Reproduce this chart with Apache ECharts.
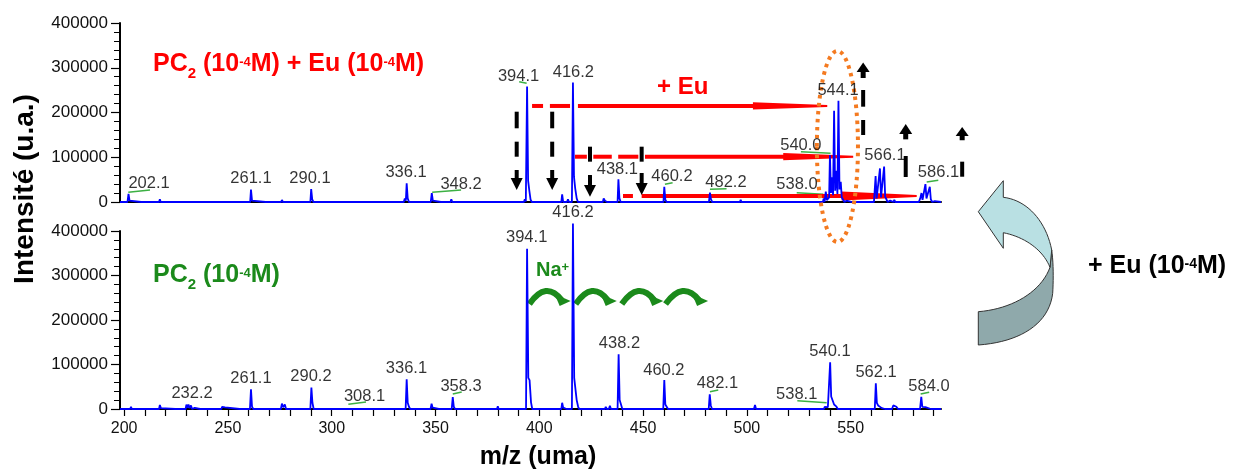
<!DOCTYPE html>
<html><head><meta charset="utf-8">
<script src="https://cdn.jsdelivr.net/npm/echarts@6/dist/echarts.min.js"></script>
<style>html,body{margin:0;padding:0;background:#fff}#c{width:1234px;height:469px}</style>
</head><body><div id="c"></div>
<script>
// ---------- DATA ----------
// Spectrum PC2 + Eu (top panel): [m/z, intensity]
const euSpectrum = [
[198,0],[201.6,0],[202.1,18000],[202.6,3000],[203.1,0],
[208.2,0],[208.6,2000],[209,0],[216.8,0],[217.2,6000],[217.6,0],
[227.1,0],[227.5,1500],[227.9,0],[229.6,0],[230,4000],[230.5,0],[231.3,0],[231.7,3500],[232.1,0],
[237,0],[237.4,2000],[237.8,0],[252.1,0],[252.5,2000],[252.9,0],[255.1,0],[255.5,2500],[255.9,0],
[260.7,0],[261.1,28000],[261.6,3000],[262.1,0],[268.1,0],[268.5,2000],[268.9,0],
[274.1,0],[274.5,3500],[275,0],[275.6,0],[276,4500],[276.5,0],[279.1,0],[279.5,2000],[279.9,0],
[289.7,0],[290.1,29000],[290.6,6000],[291.2,0],[296.6,0],[297,2500],[297.4,0],
[301.6,0],[302,2000],[302.4,0],[305.6,0],[306,2500],[306.4,0],[309.6,0],[310,1500],[310.4,0],
[313.6,0],[314,2000],[314.4,0],[317.6,0],[318,3000],[318.4,0],[324.6,0],[325,2000],[325.4,0],
[329.6,0],[330,2500],[330.4,0],[334.7,0],[335.2,8000],[335.7,3000],[336.1,42000],[336.6,8000],[337.2,0],
[342.6,0],[343,2000],[343.4,0],[347.7,0],[348.2,20000],[348.7,3000],[349.3,0],
[352.6,0],[353,2500],[353.4,0],[357.2,0],[357.6,6000],[358.1,0],[363.6,0],[364,2000],[364.4,0],
[370.6,0],[371,2500],[371.4,0],[373.6,0],[374,2000],[374.4,0],[379.6,0],[380,2000],[380.4,0],
[385.6,0],[386,2500],[386.4,0],
[392.6,0],[393,6000],[393.5,1000],[394.1,258000],[394.6,48000],[395.2,25000],[395.8,5000],[396.4,0],
[400.6,0],[401,3000],[401.4,0],[404.6,0],[405,2000],[405.4,0],[410.6,0],[411,17000],[411.5,0],
[413.3,0],[413.8,6000],[414.3,0],
[415.7,0],[416.2,267000],[416.7,56000],[417.3,30000],[418,8000],[418.6,0],
[419.6,0],[420,2000],[420.4,0],[425.6,0],[426,2500],[426.4,0],
[429.1,0],[429.5,4000],[430,0],[430.6,0],[431,8000],[431.6,3000],[432,5000],[432.6,0],
[437.7,0],[438.1,51000],[438.6,8000],[439.2,0],[441.6,0],[442,2000],[442.4,0],
[445.6,0],[446,2000],[446.4,0],[450.6,0],[451,3000],[451.4,0],[454.6,0],[455,2000],[455.4,0],
[459.8,0],[460.2,34000],[460.7,5000],[461.3,0],[462.6,0],[463,4000],[463.4,0],
[467.6,0],[468,2000],[468.4,0],[473.6,0],[474,2500],[474.4,0],[478.6,0],[479,2000],[479.4,0],
[481.7,0],[482.2,21000],[482.7,6000],[483.3,0],[484.6,0],[485,3000],[485.4,0],
[489.6,0],[490,2000],[490.4,0],[496.6,0],[497,5000],[497.4,0],[501.6,0],[502,2000],[502.4,0],
[508.6,0],[509,2500],[509.4,0],[513.6,0],[514,2000],[514.4,0],[518.6,0],[519,2500],[519.4,0],
[525.6,0],[526,2000],[526.4,0],[530.6,0],[531,2500],[531.4,0],[533.6,0],[534,2000],[534.4,0],
[536.6,0],[537,8000],[537.4,0],[537.6,0],[538,23000],[538.5,4000],[539.2,5000],
[539.6,10000],[540,105000],[540.5,20000],[541.1,55000],[541.5,15000],[542,204000],[542.5,25000],
[543.1,70000],[543.6,18000],[544.1,226000],[544.6,28000],[545.2,45000],[545.7,10000],[546.3,6000],[547,0],
[547.6,0],[548,3000],[548.4,0],[550.6,0],[551,2500],[551.4,0],[552.6,0],[553,4000],[553.4,0],
[554.6,0],[555,2000],[555.4,0],[557.6,0],[558,3000],[558.4,0],
[561.2,0],[562,58000],[562.5,8000],[563,6000],[564.1,75000],[564.6,10000],[565.1,8000],
[566.1,79000],[566.6,12000],[567.2,15000],[567.8,0],
[568.6,0],[569,3000],[569.4,0],[570.6,0],[571,5000],[571.5,0],[573.6,0],[574,4000],[574.4,0],
[577.6,0],[578,2000],[578.4,0],[579.6,0],[580,2500],[580.4,0],
[582.8,0],[583.5,8000],[584.1,20000],[584.6,5000],[585.3,4000],[586,40000],[586.5,8000],
[587.3,5000],[588.1,34000],[588.6,6000],[589.3,0],[590.1,0],[590.5,2000],[590.9,0],[593.5,0]
];
// Spectrum PC2 alone (bottom panel): [m/z, intensity]
const pc2Spectrum = [
[198,0],[202.9,0],[203.3,5000],[203.7,0],[209.1,0],[209.5,1500],[209.9,0],
[216.8,0],[217.2,9000],[217.7,2000],[218.2,0],[224.6,0],[225,1500],[225.4,0],
[229.6,0],[230,10000],[230.5,3000],[231,10000],[231.5,2000],[232.2,8000],[232.7,0],
[233.6,0],[234,2500],[234.4,0],[236.6,0],[237,1500],[237.4,0],[241.6,0],[242,1500],[242.4,0],
[244.6,0],[245,3000],[245.5,0],[246.8,0],[247.2,5000],[247.8,1500],[248.6,3500],[249.2,0],
[255.6,0],[256,1500],[256.4,0],[258.1,0],[258.5,2000],[258.9,0],
[260.6,0],[261.1,44000],[261.6,5000],[262.2,0],[267.6,0],[268,1500],[268.4,0],
[270.1,0],[270.5,2000],[270.9,0],[275.5,0],[276,12000],[276.6,4000],[277.4,10000],[278,0],
[282.6,0],[283,3000],[283.5,0],[285.1,0],[285.5,3500],[285.9,0],
[289.7,0],[290.2,48000],[290.7,14000],[291.3,0],[297.6,0],[298,2500],[298.4,0],
[303.6,0],[304,1500],[304.4,0],[307.6,0],[308.1,4000],[308.6,0],[310.6,0],[311,3000],[311.4,0],
[316.6,0],[317,2500],[317.4,0],[323.6,0],[324,1500],[324.4,0],[329.6,0],[330,2000],[330.4,0],
[335.6,0],[336.1,67000],[336.6,14000],[337.2,5000],[337.8,0],[344.6,0],[345,2500],[345.4,0],
[347.6,0],[348.1,12000],[348.6,3000],[349.2,0],[351.6,0],[352,3000],[352.4,0],
[357.8,0],[358.3,27000],[358.8,5000],[359.4,0],[363.6,0],[364,1500],[364.4,0],
[370.6,0],[371,2000],[371.4,0],[376.6,0],[377,1500],[377.4,0],[379.6,0],[380,6000],[380.4,0],
[385.6,0],[386,2000],[386.4,0],[389.6,0],[390,2500],[390.4,0],
[393.6,0],[394.1,360000],[394.7,70000],[395.3,65000],[396,15000],[396.6,0],
[400.6,0],[401,2500],[401.4,0],[404.6,0],[405,2000],[405.4,0],
[410.6,0],[411,14000],[411.5,3000],[412,0],[413.1,0],[413.5,3000],[413.9,0],
[415.7,0],[416.2,417000],[416.8,70000],[417.4,66000],[418,20000],[418.7,5000],[419.2,0],
[424.6,0],[425,2000],[425.4,0],[429.6,0],[430,3000],[430.5,0],[431.6,0],[432,5000],[432.5,0],
[433.5,0],[434,7000],[434.5,0],
[437.7,0],[438.2,123000],[438.7,20000],[439.3,18000],[440,0],[443.6,0],[444,1500],[444.4,0],
[449.6,0],[450,2000],[450.4,0],[454.6,0],[455,1500],[455.4,0],
[459.7,0],[460.2,65000],[460.7,10000],[461.3,8000],[462,0],[463.6,0],[464,3000],[464.4,0],
[469.6,0],[470,2000],[470.4,0],[475.6,0],[476,2500],[476.4,0],
[481.6,0],[482.1,33000],[482.6,8000],[483.2,0],[489.6,0],[490,1500],[490.4,0],
[495.6,0],[496,2000],[496.4,0],[503.4,0],[503.9,9000],[504.4,0],[509.6,0],[510,1500],[510.4,0],
[515.6,0],[516,2000],[516.4,0],[520.6,0],[521,2500],[521.4,0],[526.6,0],[527,1500],[527.4,0],
[531.6,0],[532,2000],[532.4,0],[535.6,0],[536,2500],[536.5,0],[537.1,0],[537.5,5000],[538.1,7000],
[539,4000],[539.5,2000],[540.1,105000],[540.6,28000],[541.2,25000],[542,10000],[543,6000],[543.8,0],
[546.6,0],[547,2500],[547.4,0],[549.6,0],[550,2000],[550.4,0],[552.6,0],[553,4000],[553.5,0],
[554.6,0],[555,3500],[555.4,0],[557.6,0],[558,2500],[558.4,0],
[561.6,0],[562.1,58000],[562.6,14000],[563.2,8000],[564,5000],[565,2000],[565.6,0],
[566.6,0],[567,3000],[567.4,0],[569.9,0],[570.5,8000],[571.2,12000],[572,5000],[572.8,0],
[574.6,0],[575,3000],[575.4,0],[577.6,0],[578,2000],[578.4,0],
[583.4,0],[584,27500],[584.5,5000],[585.2,3000],[586,4000],[586.8,0],[588.6,0],[589,1500],[589.4,0],[593.5,0]
];
// Peak labels: [text, m/z of label centre, intensity of label centre]
const euPeakLabels = [
['202.1',212.0,40900],['261.1',261.1,53600],['290.1',289.5,53600],['336.1',335.8,65500],
['348.2',362.3,40200],['394.1',390.0,281600],['416.2',416.4,289000],['438.1',437.6,73100],
['460.2',463.9,56500],['482.2',489.9,43100],['538.0',524.1,39600],['540.0',526.0,127400],
['544.1',543.9,250300],['566.1',566.5,105000],['586.1',592.3,65500]
];
const pc2PeakLabels = [
['232.2',232.7,35300],['261.1',261.1,69000],['290.2',290.0,74200],['308.1',315.8,29200],
['336.1',336.0,91500],['358.3',362.3,50100],['394.1',393.9,385800],['416.2',416.2,442700],
['438.2',438.6,147600],['460.2',460.0,87600],['482.1',485.8,57700],['538.1',524.0,33000],
['540.1',540.0,128700],['562.1',562.2,81600],['584.0',587.7,50100]
];
// Green label leader lines [mz1, val1, mz2, val2]
const euLeaders = [[202.0,21700,212.45,26800],[348.4,21700,362.3,26800],[390.3,268900,393.9,265300],
[460.5,39600,464.2,43100],[482.2,28400,490.2,29700],[526.0,112400,540.3,108800],
[524.0,20800,536.8,17200],[586.6,44700,592.2,48500]];
const pc2Leaders = [[308.0,10600,316.5,15700],[358.3,33700,362.6,38200],[482.2,38900,486.2,42700],
[524.3,18600,538.4,14200],[583.7,33700,587.8,37500]];
// Axis tick values
const xTickValues = [200,210,220,230,240,250,260,270,280,290,300,310,320,330,340,350,360,370,380,390,400,410,420,430,440,450,460,470,480,490,500,510,520,530,540,550,560,570,580,590];
const xLabelValues = [200,250,300,350,400,450,500,550];
// Red "+Eu" arrows (top panel): level, dashed pieces, [solid start, head start, tip]
const redArrowLevels = [214600, 101200, 13400];
const redArrowDashes = [[[396.5,401.8],[405.1,414.8]], [[417.2,422.9],[426.0,434.9],[438.0,447.7]], [[440.3,445.1]]];
const redArrowShafts = [[418.6,502.9,538.7],[450.9,517.5,551.2],[449.3,545.6,581.8]];
// Black dashed arrows (top panel)
const downArrows = [
 {mz:389.1, dashes:[[201800,164700],[134800,101200]], shaft:[71500,53600], tip:26800},
 {mz:406.2, dashes:[[201800,164700],[134800,101200]], shaft:[71500,53600], tip:26800},
 {mz:424.4, dashes:[[123600,90100]], shaft:[60300,38000], tip:11800},
 {mz:449.3, dashes:[[123600,90100]], shaft:[64800,42500], tip:15600}];
const upArrows = [
 {mz:556.0, tip:312000, base:290500, shaftEnd:277100, dashes:[[250300,213000],[183300,149700]]},
 {mz:576.5, tip:174300, base:152000, shaftEnd:140000, dashes:[[102800,55900]]},
 {mz:603.7, tip:167600, base:147500, shaftEnd:138000, dashes:[[90100,56500]]}];
// Na+ curved arrows (bottom panel) [from mz, to mz]
const naArrows = [[395.2,415.1],[417.5,437.3],[439.7,459.7],[460.8,481.3]];
const naLevels = [235900, 262900];
// Orange ellipse: mz left/right, top (top panel value), bottom (bottom panel value)
const ellipseBox = [533.7, 553.5, 337500, 375200];

// ---------- CHART ----------
const FONT = 'Liberation Sans, Arial, Helvetica, sans-serif';
const chart = echarts.init(document.getElementById('c'));
const yAxisCommon = {
  type:'value', min:0, max:400000, interval:100000,
  axisLine:{show:true, lineStyle:{color:'#000', width:2}},
  axisTick:{show:true, length:9, lineStyle:{color:'#000', width:1.2}},
  minorTick:{show:true, splitNumber:5, length:6, lineStyle:{color:'#000', width:1}},
  splitLine:{show:false}, minorSplitLine:{show:false},
  axisLabel:{color:'#111', fontSize:17, fontFamily:FONT, margin:12, formatter:v=>String(v)}
};
const labelSeries = (idx, arr) => ({
  type:'scatter', xAxisIndex:idx, yAxisIndex:idx, symbolSize:1, clip:false, silent:true,
  itemStyle:{color:'rgba(0,0,0,0)'}, z:10,
  label:{show:true, position:'inside', formatter:p=>p.name, color:'#000', fontSize:16.5, fontFamily:FONT},
  data: arr.map(d=>({name:d[0], value:[d[1],d[2]]}))
});
chart.setOption({
  animation:false,
  grid:[
    {left:120, top:23, width:821, height:179, outerBoundsMode:'none', containLabel:false},
    {left:120, top:231, width:821, height:178, outerBoundsMode:'none', containLabel:false}
  ],
  xAxis:[
    {gridIndex:0, type:'value', min:198, max:593.5,
     axisLine:{show:true, onZero:false, lineStyle:{color:'#000', width:2}},
     axisTick:{show:false}, axisLabel:{show:false}, splitLine:{show:false}},
    {gridIndex:1, type:'value', min:198, max:593.5,
     axisLine:{show:true, onZero:false, lineStyle:{color:'#000', width:2}},
     axisTick:{show:true, length:7, customValues:xTickValues, lineStyle:{color:'#000', width:1.2}},
     axisLabel:{show:true, customValues:xLabelValues, color:'#111', fontSize:16, fontFamily:FONT, margin:12},
     splitLine:{show:false}}
  ],
  yAxis:[Object.assign({gridIndex:0}, yAxisCommon), Object.assign({gridIndex:1}, yAxisCommon)],
  series:[
    {type:'line', xAxisIndex:0, yAxisIndex:0, data:euSpectrum, showSymbol:false, symbol:'none',
     sampling:null, clip:false, lineStyle:{color:'#0000ff', width:1.8}, z:5},
    {type:'line', xAxisIndex:1, yAxisIndex:1, data:pc2Spectrum, showSymbol:false, symbol:'none',
     sampling:null, clip:false, lineStyle:{color:'#0000ff', width:1.8}, z:5},
    labelSeries(0, euPeakLabels),
    labelSeries(1, pc2PeakLabels)
  ]
});

// ---------- ANNOTATIONS (positioned through the axes) ----------
const P = (g, x, y) => chart.convertToPixel({xAxisIndex:g, yAxisIndex:g}, [x, y]);
const G = [];
const RED = '#ff0000', GREEN = '#1b8a1b', BLACK = '#000';

// leader lines
[[0,euLeaders],[1,pc2Leaders]].forEach(([g, arr]) => arr.forEach(l => {
  const a = P(g,l[0],l[1]), b = P(g,l[2],l[3]);
  G.push({type:'line', shape:{x1:a[0],y1:a[1],x2:b[0],y2:b[1]}, style:{stroke:'#3cb043', lineWidth:1.5}, z:3});
}));

// red arrows
redArrowLevels.forEach((lv, i) => {
  redArrowDashes[i].forEach(d => {
    const a = P(0,d[0],lv), b = P(0,d[1],lv);
    G.push({type:'rect', shape:{x:a[0], y:a[1]-2, width:b[0]-a[0], height:4}, style:{fill:RED}, z:3});
  });
  const s = redArrowShafts[i];
  const a = P(0,s[0],lv), h = P(0,s[1],lv), t = P(0,s[2],lv);
  const y = a[1], hw = i===2 ? 4.5 : 3.6;
  G.push({type:'polygon', shape:{points:[[a[0],y-2],[h[0],y-2],[h[0],y-hw],[t[0],y-1],[t[0],y+1],[h[0],y+hw],[h[0],y+2],[a[0],y+2]]},
    style:{fill:RED}, z:3});
});

// black dashed arrows
downArrows.forEach(d => {
  d.dashes.forEach(ds => {
    const a = P(0,d.mz,ds[0]), b = P(0,d.mz,ds[1]);
    G.push({type:'rect', shape:{x:a[0]-2, y:a[1], width:4, height:b[1]-a[1]}, style:{fill:BLACK}, z:4});
  });
  const s0 = P(0,d.mz,d.shaft[0]), s1 = P(0,d.mz,d.shaft[1]), tp = P(0,d.mz,d.tip);
  G.push({type:'rect', shape:{x:s0[0]-2, y:s0[1], width:4, height:s1[1]-s0[1]}, style:{fill:BLACK}, z:4});
  G.push({type:'polygon', shape:{points:[[s1[0]-6,s1[1]],[s1[0]+6,s1[1]],[tp[0],tp[1]]]}, style:{fill:BLACK}, z:4});
});
upArrows.forEach(d => {
  d.dashes.forEach(ds => {
    const a = P(0,d.mz,ds[0]), b = P(0,d.mz,ds[1]);
    G.push({type:'rect', shape:{x:a[0]-2, y:a[1], width:4, height:b[1]-a[1]}, style:{fill:BLACK}, z:4});
  });
  const tp = P(0,d.mz,d.tip), bs = P(0,d.mz,d.base), se = P(0,d.mz,d.shaftEnd);
  G.push({type:'rect', shape:{x:bs[0]-2.5, y:bs[1], width:5, height:se[1]-bs[1]}, style:{fill:BLACK}, z:4});
  G.push({type:'polygon', shape:{points:[[bs[0]-6.5,bs[1]],[bs[0]+6.5,bs[1]],[tp[0],tp[1]]]}, style:{fill:BLACK}, z:4});
});

// orange dotted ellipse
(() => {
  const l = P(0,ellipseBox[0],0)[0], r = P(0,ellipseBox[1],0)[0];
  const t = P(0,ellipseBox[0],ellipseBox[2])[1], b = P(1,ellipseBox[0],ellipseBox[3])[1];
  G.push({type:'ellipse', shape:{cx:(l+r)/2, cy:(t+b)/2, rx:(r-l)/2, ry:(b-t)/2},
    style:{fill:'none', stroke:'#f47a20', lineWidth:4, lineDash:[3.5,4.5]}, z:6});
})();

// Na+ green curved arrows
naArrows.forEach(n => {
  const a = P(1,n[0],naLevels[0]), e = P(1,n[1],naLevels[0]), top = P(1,n[0],naLevels[1]);
  const x0 = a[0], x1 = e[0], yb = a[1], ya = top[1];
  G.push({type:'bezierCurve', shape:{x1:x0, y1:yb, x2:x1-9, y2:yb-4, cpx1:(x0+x1)/2-4, cpy1:ya-12},
    style:{stroke:GREEN, lineWidth:6, fill:'none'}, z:4});
  G.push({type:'polygon', shape:{points:[[x1-16,yb-10],[x1,yb-3],[x1-11,yb+2]]}, style:{fill:GREEN}, z:4});
});

// big curved ribbon arrow (decoration, right side) built from sampled cubic curves
function cubic(p0, c1, c2, p1, n) {
  const out = [];
  for (let i = 0; i <= n; i++) {
    const t = i / n, u = 1 - t;
    out.push([u*u*u*p0[0] + 3*u*u*t*c1[0] + 3*u*t*t*c2[0] + t*t*t*p1[0],
              u*u*u*p0[1] + 3*u*u*t*c1[1] + 3*u*t*t*c2[1] + t*t*t*p1[1]]);
  }
  return out;
}
const darkFace = [].concat(
  [[1051.7,250]],
  cubic([1051.7,250],[1053.5,262],[1053.5,280],[1052.7,293.3],10),
  cubic([1052.7,293.3],[1049,324],[1020,342],[978.3,345],20),
  [[978.3,311.7]],
  cubic([978.3,311.7],[1012,309],[1041,292],[1050,267.3],20)
);
const lightFace = [].concat(
  [[978.3,211.7],[1003.3,180.7]],
  cubic([1003.3,197.3],[1027,200],[1046,221],[1051.7,250],20),
  [[1050,267.3]],
  cubic([1050,267.3],[1043,250],[1025,237],[1003.3,232.7],20),
  [[1003.3,248.3]]
);
G.push({type:'polygon', shape:{points:darkFace}, style:{fill:'#8fa9ab', stroke:'#333', lineWidth:1}, z:2});
G.push({type:'polygon', shape:{points:lightFace}, style:{fill:'#b9e0e3', stroke:'#333', lineWidth:1}, z:2});

// titles / texts
G.push({type:'text', x:25, y:189, rotation:Math.PI/2,
  style:{text:'Intensité (u.a.)', fontFamily:FONT, fontWeight:'bold', fontSize:28, fill:'#000', align:'center', verticalAlign:'middle'}, z:8});
G.push({type:'text', x:538, y:457,
  style:{text:'m/z (uma)', fontFamily:FONT, fontWeight:'bold', fontSize:25, fill:'#000', align:'center', verticalAlign:'middle'}, z:8});
const richFor = (color, size, subSize) => ({
  m:{fontSize:size, fontWeight:'bold', fontFamily:FONT, fill:color, lineHeight:size+3, verticalAlign:'top'},
  sub:{fontSize:subSize, fontWeight:'bold', fontFamily:FONT, fill:color, lineHeight:subSize, padding:[16,0,0,0]},
  sup:{fontSize:subSize-2, fontWeight:'bold', fontFamily:FONT, fill:color, lineHeight:subSize-2, verticalAlign:'top', padding:[4,0,0,0]}
});
G.push({type:'text', x:153, y:66, style:{text:'{m|PC}{sub|2}{m| (10}{sup|-4}{m|M) + Eu (10}{sup|-4}{m|M)}',
  rich:richFor(RED,25,15), fill:RED, align:'left', verticalAlign:'middle'}, z:8});
G.push({type:'text', x:153, y:277, style:{text:'{m|PC}{sub|2}{m| (10}{sup|-4}{m|M)}',
  rich:richFor(GREEN,25,15), fill:GREEN, align:'left', verticalAlign:'middle'}, z:8});
G.push({type:'text', x:657, y:87, style:{text:'+ Eu', fontFamily:FONT, fontWeight:'bold', fontSize:24, fill:RED, align:'left', verticalAlign:'middle'}, z:8});
G.push({type:'text', x:536, y:271, style:{text:'{m|Na}{sup|+}',
  rich:{m:{fontSize:20, fontWeight:'bold', fontFamily:FONT, fill:GREEN, lineHeight:22, verticalAlign:'top'},
        sup:{fontSize:13, fontWeight:'bold', fontFamily:FONT, fill:GREEN, lineHeight:13, verticalAlign:'top', padding:[1,0,0,0]}},
  fill:GREEN, align:'left', verticalAlign:'middle'}, z:8});
G.push({type:'text', x:1088, y:268, style:{text:'{m|+ Eu (10}{sup|-4}{m|M)}',
  rich:{m:{fontSize:25, fontWeight:'bold', fontFamily:FONT, fill:'#000', lineHeight:28, verticalAlign:'top'},
        sup:{fontSize:14, fontWeight:'bold', fontFamily:FONT, fill:'#000', lineHeight:14, verticalAlign:'top', padding:[3,0,0,0]}},
  fill:'#000', align:'left', verticalAlign:'middle'}, z:8});

chart.setOption({graphic:{elements:G}});
</script></body></html>
